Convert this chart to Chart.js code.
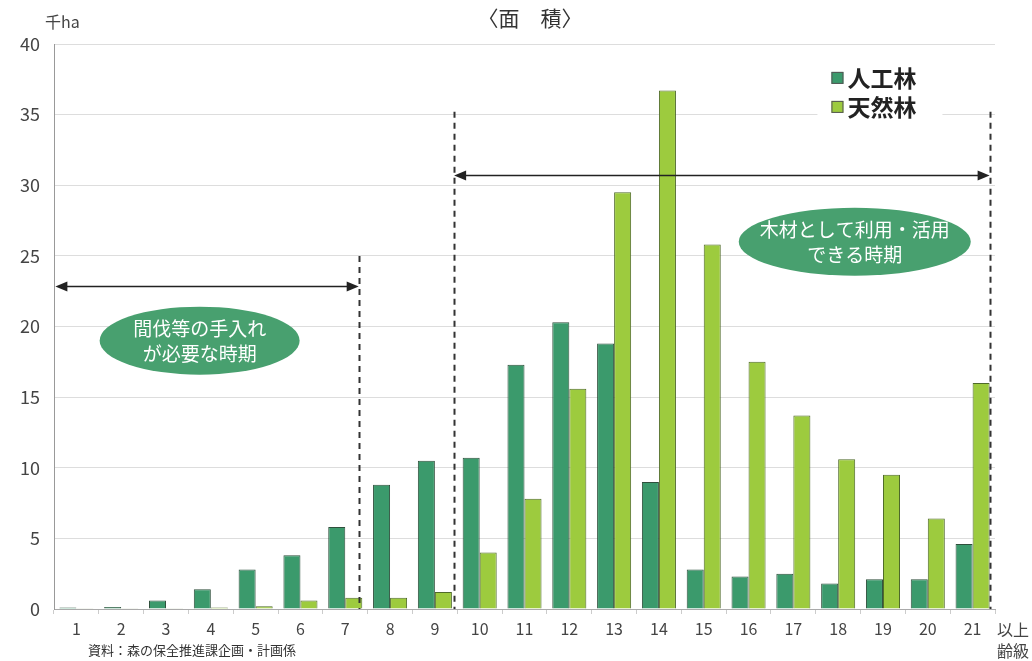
<!DOCTYPE html>
<html>
<head>
<meta charset="utf-8">
<script src="https://cdn.jsdelivr.net/npm/chart.js@4/dist/chart.umd.min.js"></script>
<style>
  html, body { margin: 0; padding: 0; background: #fff; overflow: hidden; }
</style>
</head>
<body>
<canvas id="myChart" width="1032" height="661"></canvas>
<script>
// 齢級 1..21
const ageClasses = ['1','2','3','4','5','6','7','8','9','10','11','12','13','14','15','16','17','18','19','20','21'];
// 人工林 (千ha)
const plantedArea = [0.1, 0.15, 0.6, 1.4, 2.8, 3.8, 5.8, 8.8, 10.5, 10.7, 17.3, 20.3, 18.8, 9.0, 2.8, 2.3, 2.5, 1.8, 2.1, 2.1, 4.6];
// 天然林 (千ha)
const naturalArea = [0.05, 0.05, 0.05, 0.1, 0.2, 0.6, 0.8, 0.8, 1.2, 4.0, 7.8, 15.6, 29.5, 36.7, 25.8, 17.5, 13.7, 10.6, 9.5, 6.4, 16.0];
const yTicks = [0, 5, 10, 15, 20, 25, 30, 35, 40];

const FONT = '"Noto Sans CJK JP", "Noto Sans", sans-serif';
const darkGreen = '#3b9a6c';
const lime = '#9dcb3e';
const ovalGreen = '#48a06f';

// annotations in data units (x = category index, y = 千ha)
const periods = [
    { from: -0.47, to: 6.3, arrowY: 22.9, lineTop: 25, ovalX: 2.75, ovalY: 19.0, lines: ['間伐等の手入れ', 'が必要な時期'], ovalW: 200 },
    { from: 8.43, to: 20.38, arrowY: 30.7, lineTop: 35.2, ovalX: 17.37, ovalY: 26.0, lines: ['木材として利用・活用', 'できる時期'], ovalW: 232 }
];

const annotate = {
    id: 'annotate',
    afterDatasetsDraw(chart) {
        const ctx = chart.ctx;
        const xs = chart.scales.x, ys = chart.scales.y;
        const base = ys.getPixelForValue(0);
        ctx.save();

        // dashed vertical lines
        ctx.strokeStyle = '#333';
        ctx.lineWidth = 2;
        ctx.setLineDash([6, 5]);
        const vlines = [[periods[0].to, periods[0].lineTop], [periods[1].from, periods[1].lineTop], [periods[1].to, periods[1].lineTop]];
        vlines.forEach(v => {
            const px = Math.round(xs.getPixelForValue(v[0])) + 0.5;
            ctx.beginPath();
            ctx.moveTo(px, ys.getPixelForValue(v[1]));
            ctx.lineTo(px, base);
            ctx.stroke();
        });
        ctx.setLineDash([]);

        // double arrows
        periods.forEach(p => {
            const x1 = xs.getPixelForValue(p.from), x2 = xs.getPixelForValue(p.to);
            const y = Math.round(ys.getPixelForValue(p.arrowY)) + 0.5;
            ctx.strokeStyle = '#222';
            ctx.lineWidth = 1.5;
            ctx.beginPath();
            ctx.moveTo(x1 + 4, y);
            ctx.lineTo(x2 - 4, y);
            ctx.stroke();
            ctx.fillStyle = '#222';
            ctx.beginPath();
            ctx.moveTo(x1, y); ctx.lineTo(x1 + 12, y - 5); ctx.lineTo(x1 + 12, y + 5); ctx.closePath(); ctx.fill();
            ctx.beginPath();
            ctx.moveTo(x2, y); ctx.lineTo(x2 - 12, y - 5); ctx.lineTo(x2 - 12, y + 5); ctx.closePath(); ctx.fill();

            // oval
            const cx = xs.getPixelForValue(p.ovalX), cy = ys.getPixelForValue(p.ovalY);
            ctx.fillStyle = ovalGreen;
            ctx.beginPath();
            ctx.ellipse(cx, cy, p.ovalW / 2, 34, 0, 0, Math.PI * 2);
            ctx.fill();
            ctx.fillStyle = '#fff';
            ctx.font = '19px ' + FONT;
            ctx.textAlign = 'center';
            ctx.textBaseline = 'middle';
            ctx.fillText(p.lines[0], cx, cy - 12);
            ctx.fillText(p.lines[1], cx, cy + 13);
        });

        // legend
        const lx = xs.getPixelForValue(16.85), ly = ys.getPixelForValue(37.6);
        ctx.fillStyle = '#fff';
        ctx.fillRect(lx - 14, ly - 20, 125, 60);
        chart.data.datasets.forEach((ds, i) => {
            const yy = ly + i * 29;
            ctx.fillStyle = ds.backgroundColor;
            ctx.strokeStyle = '#555';
            ctx.lineWidth = 1;
            ctx.fillRect(lx, yy - 6, 12, 12);
            ctx.strokeRect(lx + 0.5, yy - 5.5, 11, 11);
            ctx.fillStyle = '#222';
            ctx.font = 'bold 23px ' + FONT;
            ctx.textAlign = 'left';
            ctx.textBaseline = 'middle';
            ctx.fillText(ds.label, lx + 16, yy);
        });

        // axis extras
        ctx.fillStyle = '#444';
        ctx.font = '16px ' + FONT;
        ctx.textAlign = 'left';
        ctx.textBaseline = 'middle';
        ctx.fillText('以上', xs.right + 2, base + 21);
        ctx.fillText('齢級', xs.right + 2, base + 42);
        ctx.fillText('千ha', 45, 22);
        ctx.font = '13px ' + FONT;
        ctx.fillStyle = '#333';
        ctx.fillText('資料：森の保全推進課企画・計画係', 88, 650);
        ctx.font = '21px ' + FONT;
        ctx.fillStyle = '#333';
        ctx.textAlign = 'center';
        ctx.fillText('〈面　積〉', 530, 18);
        ctx.restore();
    }
};

const ctx = document.getElementById('myChart').getContext('2d');
const myChart = new Chart(ctx, {
    type: 'bar',
    data: {
        labels: ageClasses,
        datasets: [{
            label: '人工林',
            data: plantedArea,
            backgroundColor: darkGreen,
            borderColor: '#2f4f3c',
            borderWidth: 1,
            categoryPercentage: 0.76,
            barPercentage: 1
        }, {
            label: '天然林',
            data: naturalArea,
            backgroundColor: lime,
            borderColor: '#4f6a2a',
            borderWidth: 1,
            categoryPercentage: 0.76,
            barPercentage: 1
        }]
    },
    options: {
        responsive: false,
        animation: false,
        layout: { padding: { top: 44, right: 37, left: 0, bottom: 0 } },
        plugins: {
            legend: { display: false },
            tooltip: { enabled: false },
            title: { display: false }
        },
        scales: {
            x: {
                afterFit: s => { s.height = 52; },
                grid: { drawOnChartArea: false, drawTicks: true, tickLength: 5, color: '#ccc' },
                border: { color: '#aaa' },
                ticks: { color: '#444', font: { family: FONT, size: 16 }, padding: 5, maxRotation: 0, autoSkip: false }
            },
            y: {
                min: 0,
                max: 40,
                afterFit: s => { s.width = 54; },
                afterBuildTicks: s => { s.ticks = yTicks.map(v => ({ value: v })); },
                grid: { color: '#ddd', drawTicks: false },
                border: { color: '#999' },
                ticks: { color: '#444', font: { family: FONT, size: 18 }, padding: 14 }
            }
        }
    },
    plugins: [annotate]
});
</script>
</body>
</html>
